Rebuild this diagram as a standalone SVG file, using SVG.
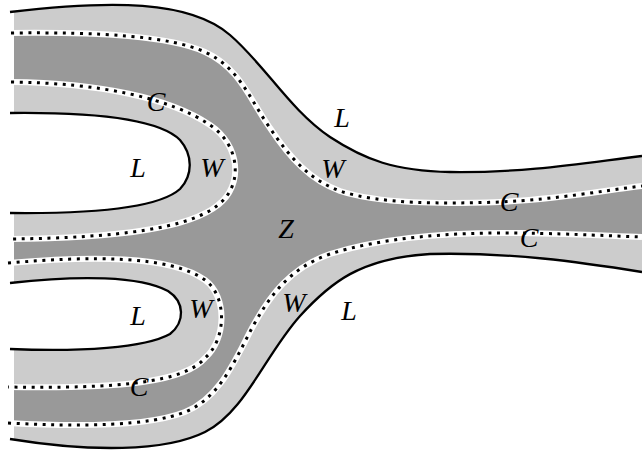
<svg xmlns="http://www.w3.org/2000/svg" width="642" height="456" viewBox="0 0 642 456">
<defs>
<style>
.light{fill:#cccccc;stroke:none}
.dark{fill:#999999;stroke:none}
.hole{fill:#ffffff;stroke:none}
.solid{fill:none;stroke:#000;stroke-width:2.3;stroke-linecap:butt}
.dotw{fill:none;stroke:#fff;stroke-width:6}
.dotb{fill:none;stroke:#000;stroke-width:3;stroke-dasharray:3 5.6}
.lbl{font-family:"Liberation Serif","Times New Roman",serif;font-style:italic;font-size:28px;fill:#000;text-anchor:middle}
</style>
<clipPath id="clip"><rect x="14" y="0" width="628" height="456"/></clipPath>
<path id="A" d="M10,12 C110,0 190,0 230,35 C265,65 290,110 330,137 C365,160 395,171 450,172 C530,173 590,162 642,156"/>
<path id="B" d="M10,439 C90,452 165,452 205,432 C245,412 265,355 300,316 C330,283 360,258 430,254 C510,252 580,262 642,272"/>
<path id="U" d="M10,113 C100,112 160,120 180,140 C193,155 193,175 180,189 C160,207 100,214 10,213"/>
<path id="V" d="M10,283 C80,275 140,276 168,291 C185,302 185,322 170,334 C145,348 80,352 10,349"/>
<path id="D1" d="M11,33 C100,32 170,36 205,52 C240,68 250,100 270,128 C290,158 310,180 340,191 C380,204 440,204 500,202 C560,199 600,191 642,186"/>
<path id="D2" d="M8,423 C80,427 150,426 185,412 C220,398 235,360 252,328 C270,295 290,268 330,254 C380,238 450,232 520,233 C580,234 610,236 642,237"/>
<path id="D3" d="M11,82 C100,83 170,98 210,125 C240,145 244,185 218,205 C190,228 120,238 8,239"/>
<path id="D4" d="M8,263 C90,256 170,255 205,280 C228,297 226,340 205,358 C185,382 120,389 8,387"/>
</defs>
<g id="regions" clip-path="url(#clip)">
<path class="light" d="M10,12 C110,0 190,0 230,35 C265,65 290,110 330,137 C365,160 395,171 450,172 C530,173 590,162 642,156 L642,272 C580,262 510,252 430,254 C360,258 330,283 300,316 C265,355 245,412 205,432 C165,452 90,452 10,439 Z"/>
<path class="dark" d="M11,33 C100,32 170,36 205,52 C240,68 250,100 270,128 C290,158 310,180 340,191 C380,204 440,204 500,202 C560,199 600,191 642,186 L642,237 C610,236 580,234 520,233 C450,232 380,238 330,254 C290,268 270,295 252,328 C235,360 220,398 185,412 C150,426 80,427 8,423 Z"/>
<path class="light" d="M11,82 C100,83 170,98 210,125 C240,145 244,185 218,205 C190,228 120,238 8,239 Z"/>
<path class="light" d="M8,263 C90,256 170,255 205,280 C228,297 226,340 205,358 C185,382 120,389 8,387 Z"/>
<path class="hole" d="M10,113 C100,112 160,120 180,140 C193,155 193,175 180,189 C160,207 100,214 10,213 Z"/>
<path class="hole" d="M10,283 C80,275 140,276 168,291 C185,302 185,322 170,334 C145,348 80,352 10,349 Z"/>
</g>
<g id="connectors">
<use href="#D1" class="dotw"/><use href="#D1" class="dotb"/>
<use href="#D2" class="dotw"/><use href="#D2" class="dotb"/>
<use href="#D3" class="dotw"/><use href="#D3" class="dotb"/>
<use href="#D4" class="dotw"/><use href="#D4" class="dotb"/>
<use href="#A" class="solid"/>
<use href="#B" class="solid"/>
<use href="#U" class="solid"/>
<use href="#V" class="solid"/>
</g>
<g id="labels">
<text class="lbl" x="156" y="111">C</text>
<text class="lbl" x="138" y="177">L</text>
<text class="lbl" x="212" y="177">W</text>
<text class="lbl" x="342" y="127">L</text>
<text class="lbl" x="333" y="178">W</text>
<text class="lbl" x="286" y="238">Z</text>
<text class="lbl" x="509" y="211">C</text>
<text class="lbl" x="529" y="247">C</text>
<text class="lbl" x="138" y="325">L</text>
<text class="lbl" x="201" y="318">W</text>
<text class="lbl" x="294" y="312">W</text>
<text class="lbl" x="349" y="320">L</text>
<text class="lbl" x="139" y="396">C</text>
</g>
</svg>
